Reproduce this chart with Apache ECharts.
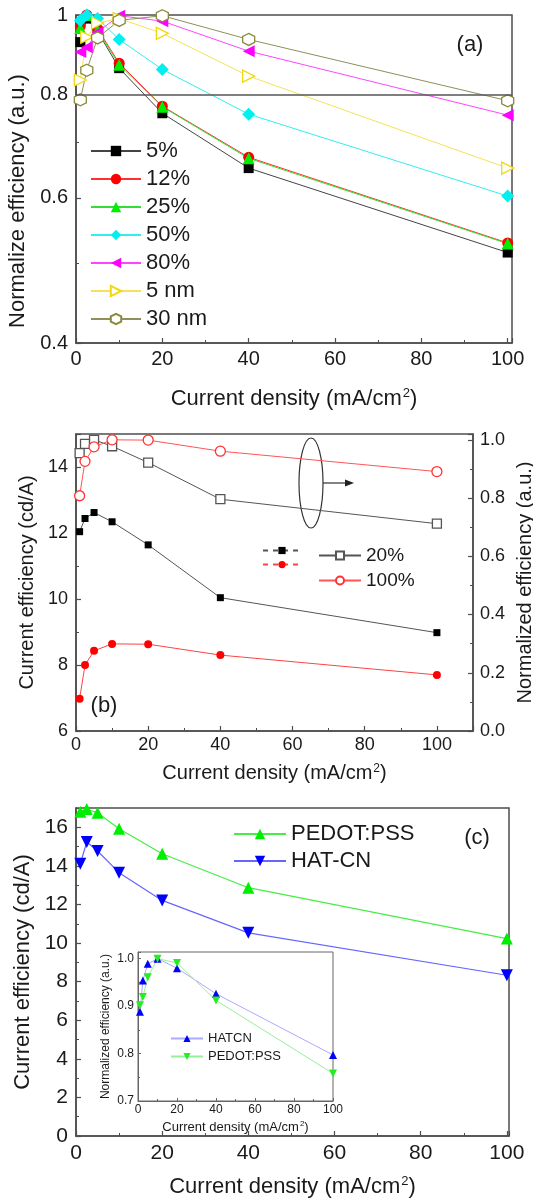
<!DOCTYPE html>
<html><head><meta charset="utf-8">
<script src="https://cdn.jsdelivr.net/npm/echarts@6/dist/echarts.min.js"></script>
<style>html,body{margin:0;padding:0;background:#fff}#c{width:533px;height:1198px}</style>
</head><body><div id="c"></div>
<script>
// ---------- data ----------
const X = [1, 2.5, 5, 10, 20, 40, 100];
// panel (a) normalized efficiency
const a_5pct  = [0.927, 0.990, 0.955, 0.862, 0.760, 0.652, 0.515];
const a_12pct = [0.970, 1.000, 0.962, 0.874, 0.775, 0.672, 0.529];
const a_25pct = [0.964, 1.000, 0.958, 0.870, 0.774, 0.670, 0.528];
const a_50pct = [0.985, 1.000, 0.990, 0.934, 0.859, 0.758, 0.603];
const a_80pct = [0.902, 0.914, 0.953, 0.998, 0.983, 0.904, 0.756];
const a_5nm   = [0.834, 0.940, 0.978, 0.990, 0.950, 0.843, 0.652];
const a_30nm  = [0.789, 0.857, 0.938, 0.985, 0.998, 0.934, 0.787];
const aYTicks = [0.4, 0.6, 0.8, 1];
const aYMinor = [0.5, 0.7, 0.9];
// panel (b)
const b_ce20  = [12.04, 12.44, 12.62, 12.34, 11.64, 10.04, 8.98];
const b_ce100 = [6.98, 8.00, 8.43, 8.64, 8.63, 8.30, 7.70];
const b_n20   = [0.954, 0.986, 1.000, 0.978, 0.922, 0.796, 0.712];
const b_n100  = [0.808, 0.926, 0.976, 1.000, 0.999, 0.961, 0.891];
// panel (c)
const c_pedot = [16.80, 16.95, 16.75, 15.93, 14.63, 12.87, 10.23];
const c_hatcn = [14.11, 15.24, 14.77, 13.65, 12.21, 10.53, 8.33];
// inset of (c)
const i_hatcn = [0.888, 0.954, 0.989, 1.000, 0.980, 0.926, 0.797];
const i_pedot = [0.902, 0.919, 0.961, 1.000, 0.991, 0.912, 0.758];

// ---------- style helpers ----------
const FONT = 'Liberation Sans';
const TXT = '#1a1a1a';
const AX = '#4d4d4d';
const pts = arr => X.map((x, i) => [x, arr[i]]);

function xTitle(fs) {
  return {
    name: 'Current density (mA/cm{s|2})',
    nameLocation: 'middle',
    nameTextStyle: {
      color: TXT, fontFamily: FONT, fontSize: fs,
      rich: { s: { fontSize: Math.round(fs * 0.6), fontFamily: FONT, color: TXT, verticalAlign: 'top', padding: [0, 0, Math.round(fs * 0.45), 1] } }
    }
  };
}
function axisCommon(fs, margin) {
  return {
    axisLine: { show: true, onZero: false, lineStyle: { color: AX, width: 1.5 } },
    axisTick: { show: true, inside: true, length: 5, lineStyle: { color: AX, width: 1.2 } },
    minorTick: { show: true, splitNumber: 2, length: 3, lineStyle: { color: AX, width: 1 } },
    axisLabel: { color: TXT, fontFamily: FONT, fontSize: fs, margin: margin, showMaxLabel: false },
    splitLine: { show: false }
  };
}
const LSYM = 'path://M10,0 L0,5 L10,10 Z';
const RSYM = 'path://M0,0 L10,5 L0,10 Z';
const DSYM = 'path://M0,0 L10,0 L5,9 Z';
const HEX  = 'path://M5,0 L9.33,2.5 L9.33,7.5 L5,10 L0.67,7.5 L0.67,2.5 Z';

function ser(name, xi, yi, arr, symbol, size, fill, stroke, lineColor, lw, extra) {
  return Object.assign({
    type: 'line', name: name, xAxisIndex: xi, yAxisIndex: yi, data: pts(arr),
    symbol: symbol, symbolSize: size, showAllSymbol: true,
    itemStyle: { color: fill, borderColor: stroke, borderWidth: fill === '#ffffff' ? 1.3 : 0 },
    lineStyle: { color: lineColor, width: lw || 1 },
    emphasis: { disabled: true }, animation: false, z: 3
  }, extra || {});
}

const gridBase = { show: true, outerBoundsMode: 'none', containLabel: false, backgroundColor: 'transparent' };
const option = {
  backgroundColor: '#ffffff',
  animation: false,
  textStyle: { fontFamily: FONT },
  grid: [
    Object.assign({ left: 76, top: 15, width: 436, height: 328, borderColor: AX, borderWidth: 1.5 }, gridBase),
    Object.assign({ left: 76, top: 434, width: 397, height: 297, borderColor: AX, borderWidth: 1.5 }, gridBase),
    Object.assign({ left: 76, top: 808, width: 433, height: 328, borderColor: AX, borderWidth: 1.5 }, gridBase),
    Object.assign({ left: 138, top: 952, width: 195, height: 149, borderColor: '#666', borderWidth: 1 }, gridBase)
  ],
  xAxis: [
    Object.assign({ type: 'value', gridIndex: 0, min: 0, max: 101, interval: 20, nameGap: 44 }, axisCommon(20, 6), xTitle(22)),
    Object.assign({ type: 'value', gridIndex: 1, min: 0, max: 110, interval: 20, nameGap: 32 }, axisCommon(18, 5), xTitle(20)),
    Object.assign({ type: 'value', gridIndex: 2, min: 0, max: 100.5, interval: 20, nameGap: 39 }, axisCommon(21, 7), xTitle(22)),
    Object.assign({ type: 'value', gridIndex: 3, min: 0, max: 100, interval: 20, nameGap: 19 },
      axisCommon(12, 3), xTitle(13),
      { axisLabel: { color: TXT, fontFamily: FONT, fontSize: 12, margin: 3 },
        axisLine: { show: true, onZero: false, lineStyle: { color: '#666', width: 1 } },
        axisTick: { show: true, inside: true, length: 3, lineStyle: { color: '#666', width: 1 } },
        minorTick: { show: true, splitNumber: 2, length: 2, lineStyle: { color: '#666', width: 1 } } })
  ],
  yAxis: [
    // (a) log axis
    Object.assign({ type: 'log', gridIndex: 0, min: 0.4, max: 1, logBase: 10,
      name: 'Normalize efficiency (a.u.)', nameLocation: 'middle', nameGap: 42,
      nameTextStyle: { color: TXT, fontFamily: FONT, fontSize: 22, padding: [0, 44, 0, 0] } },
      axisCommon(20, 8),
      { axisLabel: { color: TXT, fontFamily: FONT, fontSize: 20, margin: 8, customValues: aYTicks,
          formatter: v => (Math.abs(v - 1) < 1e-9 ? '1' : Number(v).toFixed(1)) },
        axisTick: { show: true, inside: true, length: 5, customValues: aYTicks, lineStyle: { color: AX, width: 1.2 } },
        minorTick: { show: false } }),
    // (b) left
    Object.assign({ type: 'value', gridIndex: 1, min: 6, max: 15, interval: 2, position: 'left',
      name: 'Current efficiency (cd/A)', nameLocation: 'middle', nameGap: 38,
      nameTextStyle: { color: TXT, fontFamily: FONT, fontSize: 20 } }, axisCommon(18, 8)),
    // (b) right
    Object.assign({ type: 'value', gridIndex: 1, min: 0, max: 1.02, interval: 0.2, position: 'right',
      name: 'Normalized efficiency (a.u.)', nameLocation: 'middle', nameGap: 38,
      nameTextStyle: { color: TXT, fontFamily: FONT, fontSize: 20 } }, axisCommon(18, 7),
      { axisLabel: { color: TXT, fontFamily: FONT, fontSize: 18, margin: 7, showMaxLabel: false, formatter: v => Number(v).toFixed(1) } }),
    // (c)
    Object.assign({ type: 'value', gridIndex: 2, min: 0, max: 17, interval: 2,
      name: 'Current efficiency (cd/A)', nameLocation: 'middle', nameGap: 40,
      nameTextStyle: { color: TXT, fontFamily: FONT, fontSize: 22 } }, axisCommon(21, 8)),
    // inset
    Object.assign({ type: 'value', gridIndex: 3, min: 0.7, max: 1.014, interval: 0.1,
      name: 'Normalized efficiency (a.u.)', nameLocation: 'middle', nameGap: 26,
      nameTextStyle: { color: TXT, fontFamily: FONT, fontSize: 12 } }, axisCommon(12, 4),
      { axisLabel: { color: TXT, fontFamily: FONT, fontSize: 12, margin: 4, showMaxLabel: false, formatter: v => Number(v).toFixed(1) },
        axisLine: { show: true, onZero: false, lineStyle: { color: '#666', width: 1 } },
        axisTick: { show: true, inside: true, length: 3, lineStyle: { color: '#666', width: 1 } },
        minorTick: { show: true, splitNumber: 2, length: 2, lineStyle: { color: '#666', width: 1 } } }),
    // (a) minor ticks on log axis
    { type: 'log', gridIndex: 0, min: 0.4, max: 1, logBase: 10, position: 'left', offset: 0,
      axisLine: { show: false }, axisLabel: { show: false },
      axisTick: { show: true, inside: true, length: 3, customValues: aYMinor, lineStyle: { color: AX, width: 1 } },
      splitLine: { show: false } }
  ],
  legend: [
    { orient: 'vertical', left: 85, top: 135, itemWidth: 50, itemHeight: 13, itemGap: 6,
      textStyle: { color: TXT, fontFamily: FONT, fontSize: 22 }, selectedMode: false,
      data: ['5%', '12%', '25%', '50%', '80%', '5 nm', '30 nm'] },
    { orient: 'vertical', left: 257, top: 541, itemWidth: 38, itemHeight: 9, itemGap: 6,
      textStyle: { color: TXT, fontFamily: FONT, fontSize: 18 }, selectedMode: false,
      lineStyle: { type: [5, 5] }, formatter: () => '',
      data: ['20% CE', '100% CE'] },
    { orient: 'vertical', left: 313, top: 541, itemWidth: 42, itemHeight: 10, itemGap: 6,
      textStyle: { color: TXT, fontFamily: FONT, fontSize: 19 }, selectedMode: false,
      data: ['20%', '100%'] },
    { orient: 'vertical', left: 228, top: 818, itemWidth: 52, itemHeight: 13, itemGap: 5,
      textStyle: { color: TXT, fontFamily: FONT, fontSize: 22 }, selectedMode: false,
      data: ['PEDOT:PSS', 'HAT-CN'] },
    { orient: 'vertical', left: 165, top: 1027, itemWidth: 32, itemHeight: 9, itemGap: 5,
      textStyle: { color: TXT, fontFamily: FONT, fontSize: 13 }, selectedMode: false,
      formatter: n => n.replace(' (inset)', ''),
      data: ['HATCN', 'PEDOT:PSS (inset)'] }
  ],
  series: [
    // (a)
    ser('5%', 0, 0, a_5pct, 'rect', 10, '#000000', '#000000', '#444444', 1, {
      markLine: { silent: true, symbol: ['none', 'none'], label: { show: false },
        lineStyle: { color: '#555555', width: 1.6, type: 'solid' }, data: [{ yAxis: 0.8 }] } }),
    ser('12%', 0, 0, a_12pct, 'circle', 11, '#ff0000', '#ff0000', '#ff3030'),
    ser('25%', 0, 0, a_25pct, 'triangle', 12, '#00ee00', '#00ee00', '#33dd33'),
    ser('50%', 0, 0, a_50pct, 'diamond', 13, '#00f0f0', '#00f0f0', '#33eeee'),
    ser('80%', 0, 0, a_80pct, LSYM, 12, '#ff00ff', '#ff00ff', '#ff44ff'),
    ser('5 nm', 0, 0, a_5nm, RSYM, 12, '#ffffff', '#f2d80f', '#f5e25a'),
    ser('30 nm', 0, 0, a_30nm, HEX, 12, '#ffffff', '#8a8a3c', '#8f8f5a'),
    // (b)
    ser('20% CE', 1, 1, b_ce20, 'rect', 7, '#000000', '#000000', '#555555'),
    ser('100% CE', 1, 1, b_ce100, 'circle', 8, '#ff0000', '#ff0000', '#ff4444'),
    ser('20%', 1, 2, b_n20, 'rect', 9, '#ffffff', '#555555', '#555555'),
    ser('100%', 1, 2, b_n100, 'circle', 10, '#ffffff', '#ff3333', '#ff5555'),
    // (c)
    ser('PEDOT:PSS', 2, 3, c_pedot, 'triangle', 12, '#00ee00', '#00ee00', '#44ee44', 1.2),
    ser('HAT-CN', 2, 3, c_hatcn, DSYM, 12, '#0000ff', '#0000ff', '#6666ff', 1.2),
    // inset
    ser('HATCN', 3, 4, i_hatcn, 'triangle', 8, '#0000ff', '#0000ff', '#aaaaff'),
    ser('PEDOT:PSS (inset)', 3, 4, i_pedot, DSYM, 8, '#22ee22', '#22ee22', '#99ee99')
  ],
  graphic: [
    { type: 'text', x: 470, y: 45, style: { text: '(a)', fontFamily: FONT, fontSize: 22, fill: TXT, align: 'center', verticalAlign: 'middle' } },
    { type: 'text', x: 104, y: 706, style: { text: '(b)', fontFamily: FONT, fontSize: 22, fill: TXT, align: 'center', verticalAlign: 'middle' } },
    { type: 'text', x: 477, y: 838, style: { text: '(c)', fontFamily: FONT, fontSize: 22, fill: TXT, align: 'center', verticalAlign: 'middle' } },
    { type: 'ellipse', shape: { cx: 311, cy: 483, rx: 12, ry: 45 }, style: { fill: 'none', stroke: '#333', lineWidth: 1.2 } },
    { type: 'line', shape: { x1: 323, y1: 483, x2: 347, y2: 483 }, style: { stroke: '#333', lineWidth: 1.2 } },
    { type: 'polygon', shape: { points: [[345, 479.5], [354, 483], [345, 486.5]] }, style: { fill: '#222' } }
  ]
};
const chart = echarts.init(document.getElementById('c'), null, { renderer: 'canvas' });
chart.setOption(option);
</script></body></html>
